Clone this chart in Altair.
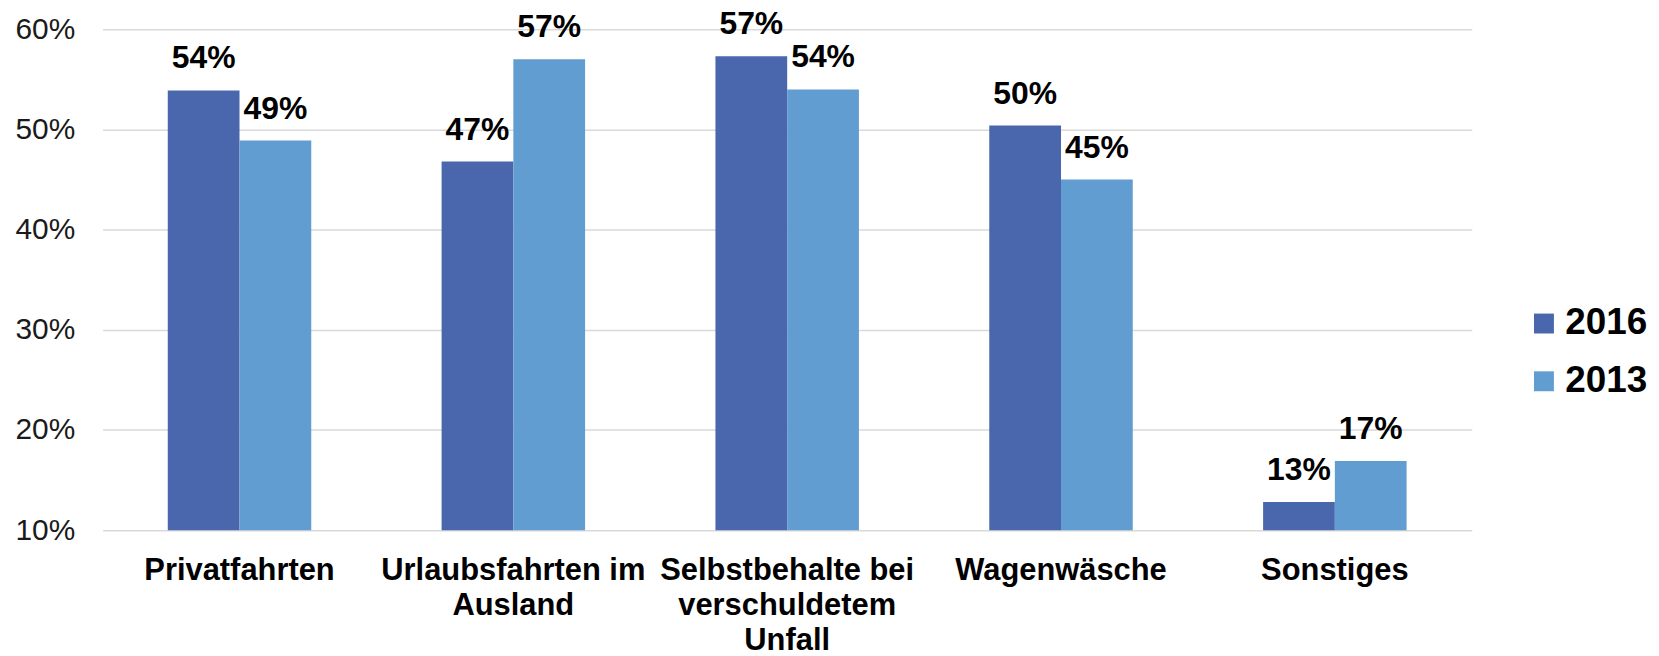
import altair as alt
import pandas as pd

categories = [
    "Privatfahrten",
    "Urlaubsfahrten im\nAusland",
    "Selbstbehalte bei\nverschuldetem\nUnfall",
    "Wagenwäsche",
    "Sonstiges",
]
years = ["2016", "2013"]
values_2016 = [53.9, 46.8, 57.3, 50.4, 12.8]
values_2013 = [48.9, 57.0, 54.0, 45.0, 16.9]
y_ticks = [10, 20, 30, 40, 50, 60]
colors = ["#4A66AC", "#629DD1"]

rows = []
for c, v16, v13 in zip(categories, values_2016, values_2013):
    rows.append({"Kategorie": c, "Jahr": "2016", "Wert": v16})
    rows.append({"Kategorie": c, "Jahr": "2013", "Wert": v13})
df = pd.DataFrame(rows)

FONT = "Liberation Sans"

x_enc = alt.X(
    "Kategorie:N",
    sort=categories,
    scale=alt.Scale(paddingInner=0.476, paddingOuter=0.238),
    axis=alt.Axis(
        title=None,
        labelAngle=0,
        labelFont=FONT,
        labelFontSize=31,
        labelFontWeight="bold",
        labelColor="#000000",
        labelPadding=26,
        labelLineHeight=35,
        labelLimit=600,
        labelExpr="split(datum.label, '\\n')",
        domain=False,
        ticks=False,
        grid=False,
    ),
)
xoff_enc = alt.XOffset("Jahr:N", sort=years, scale=alt.Scale(paddingInner=0, paddingOuter=0))
y_enc = alt.Y(
    "Wert:Q",
    scale=alt.Scale(domain=[10, 60], nice=False, zero=False, clamp=True),
    axis=alt.Axis(
        title=None,
        values=y_ticks,
        labelExpr="datum.value + '%'",
        labelFont=FONT,
        labelFontSize=30,
        labelColor="#1a1a1a",
        labelPadding=28,
        grid=True,
        gridColor="#D9D9D9",
        gridWidth=1.5,
        domain=False,
        ticks=False,
    ),
)

bars = alt.Chart(df).mark_bar().encode(
    x=x_enc,
    xOffset=xoff_enc,
    y=y_enc,
    y2=alt.datum(10),
    color=alt.Color(
        "Jahr:N",
        sort=years,
        scale=alt.Scale(domain=years, range=colors),
        legend=alt.Legend(
            title=None,
            orient="none",
            legendX=1429,
            legendY=277,
            symbolType="square",
            symbolSize=400,
            symbolStrokeWidth=0,
            labelFont=FONT,
            labelFontSize=37,
            labelFontWeight="bold",
            labelColor="#000000",
            labelOffset=3,
            rowPadding=20,
            padding=0,
        ),
    ),
)

labels = alt.Chart(df).transform_calculate(
    lbl="format(datum.Wert, '.0f') + '%'"
).mark_text(
    font=FONT, fontSize=32, fontWeight="bold", color="#000000", dy=-22, baseline="alphabetic"
).encode(
    x=alt.X("Kategorie:N", sort=categories),
    xOffset=alt.XOffset("Jahr:N", sort=years),
    y=alt.Y("Wert:Q"),
    text="lbl:N",
)

chart = (
    alt.layer(bars, labels)
    .properties(
        width=1375,
        height=503,
        background="#ffffff",
        autosize=alt.AutoSizeParams(type="none"),
        padding={"left": 95, "top": 20, "right": 180, "bottom": 125},
    )
    .configure_view(stroke="transparent", strokeWidth=0)
)

chart.save("out.html", embed_options={"renderer": "svg", "actions": False})
